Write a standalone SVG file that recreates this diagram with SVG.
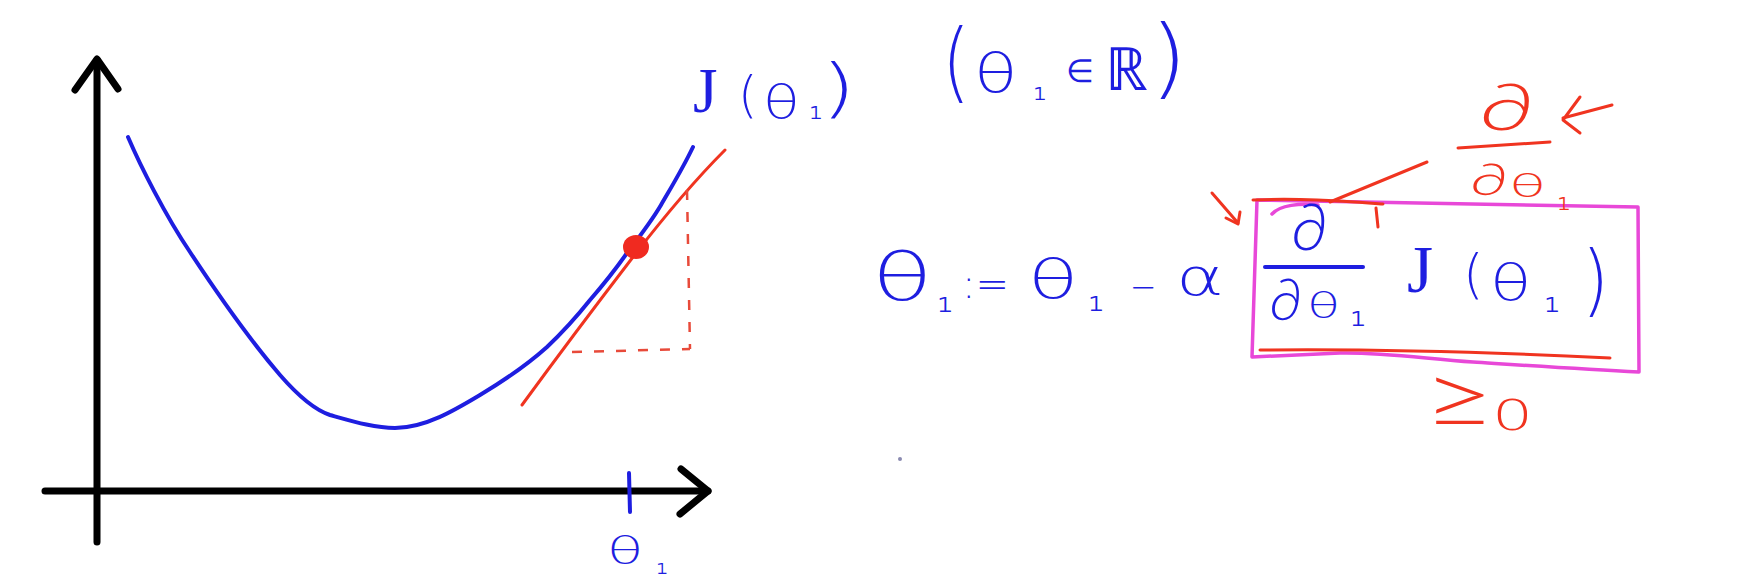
<svg xmlns="http://www.w3.org/2000/svg" width="1754" height="588" viewBox="0 0 1754 588">
  <style>
    .ax{fill:none;stroke:#000;stroke-width:7;stroke-linecap:round;stroke-linejoin:round}
    .bl{fill:none;stroke:#1e1ee0;stroke-width:4;stroke-linecap:round;stroke-linejoin:round}
    .rd{fill:none;stroke:#f03420;stroke-width:3;stroke-linecap:round;stroke-linejoin:round}
    .dash{fill:none;stroke:#e84a3a;stroke-width:2.5;stroke-dasharray:10 12}
    .mg{fill:none;stroke:#e848d8;stroke-width:3.5;stroke-linejoin:round;stroke-linecap:round}
    .tb{fill:#1e1ee0;font-family:"DejaVu Sans ExtraLight","DejaVu Sans",sans-serif;font-weight:200}
    .tr{fill:#f03420;font-family:"DejaVu Sans ExtraLight","DejaVu Sans",sans-serif;font-weight:200}
    .pd{font-family:"Lato","DejaVu Sans",sans-serif;font-weight:300}
    .jj{font-family:"Liberation Serif",serif;font-weight:400}
  </style>
  <rect width="1754" height="588" fill="#fff"/>

  <g id="axes">
    <path class="ax" d="M97 542 L97 60"/>
    <path class="ax" d="M75 90 L97 59 L118 89"/>
    <path class="ax" d="M45 491 L708 491"/>
    <path class="ax" d="M681 469 L708 491 L680 514"/>
    <path class="bl" d="M629 473 L630 512"/>
  </g>

  <g id="cost-curve">
    <path class="bl" d="M128 137 C140 165 165 215 190 252 C215 290 250 340 280 375 C300 398 315 410 330 415 C355 422 375 428 395 428 C425 428 455 410 480 395 C505 380 527 365 547 347 C565 330 578 315 590 300 C603 285 615 270 627 253 C640 236 651 222 661 205 C672 186 683 168 693 147"/>
  </g>

  <g id="tangent">
    <path class="rd" d="M522 405 C560 353 600 300 633 257 C660 222 690 185 725 150"/>
    <path class="dash" d="M687 190 L690 349"/>
    <path class="dash" d="M572 352 L690 349"/>
    <ellipse cx="636" cy="247" rx="13" ry="12" fill="#f02a20"/>
  </g>

  <g id="label-J">
    <text class="tb jj" font-size="63" x="693" y="112">J</text>
    <text class="tb" font-size="50" transform="translate(738 112)">(</text>
    <text class="tb" font-size="47" transform="translate(763 118) scale(1.28 1)">θ</text>
    <text class="tb" font-size="34" x="809" y="119">₁</text>
    <text class="tb" font-size="64" transform="translate(821 110) scale(1.4 1)">)</text>
  </g>

  <g id="label-theta-axis">
    <text class="tb" font-size="37" transform="translate(607 563) scale(1.6 1)">θ</text>
    <text class="tb" font-size="30" x="656" y="574">₁</text>
  </g>

  <g id="domain">
    <text class="tb" font-size="60" transform="translate(942 91) scale(1.2 1.45)">(</text>
    <text class="tb" font-size="53" transform="translate(974 92) scale(1.34 1)">θ</text>
    <text class="tb" font-size="34" x="1033" y="100">₁</text>
    <text class="tb" font-size="32" x="1066" y="82">∈</text>
    <text class="tb" font-size="60" x="1105" y="90">ℝ</text>
    <text class="tb" font-size="60" transform="translate(1150 87) scale(1.6 1.45)">)</text>
  </g>

  <g id="update-rule">
    <text class="tb" font-size="66" transform="translate(872 300) scale(1.5 1)">θ</text>
    <text class="tb" font-size="40" x="937" y="312">₁</text>
    <text class="tb" font-size="40" x="962" y="298">:=</text>
    <text class="tb" font-size="53" transform="translate(1028 298) scale(1.55 1)">θ</text>
    <text class="tb" font-size="40" x="1088" y="311">₁</text>
    <text class="tb" font-size="32" x="1130" y="298">−</text>
    <text class="tb" font-size="52" transform="translate(1176 295) scale(1.4 1)">α</text>
  </g>

  <g id="derivative-box">
    <path class="mg" d="M1257 200 L1638 207 L1639 372 C1580 369 1520 365 1473 362 C1420 358 1380 352 1340 353 L1252 357 Z"/>
    <path class="mg" d="M1272 214 C1280 205 1300 203 1318 205"/>
    <text class="tb pd" font-size="65" x="1291" y="250">∂</text>
    <path class="bl" d="M1265 267 L1363 267"/>
    <text class="tb pd" font-size="58" x="1269" y="320">∂</text>
    <text class="tb" font-size="35" transform="translate(1307 318) scale(1.55 1)">θ</text>
    <text class="tb" font-size="40" x="1350" y="326">₁</text>
    <text class="tb jj" font-size="67" x="1407" y="292">J</text>
    <text class="tb" font-size="53" transform="translate(1463 293)">(</text>
    <text class="tb" font-size="50" transform="translate(1490 300) scale(1.35 1)">θ</text>
    <text class="tb" font-size="40" x="1544" y="312">₁</text>
    <text class="tb" font-size="60" transform="translate(1582 307) scale(1.15 1.3)">)</text>
  </g>

  <g id="annotation-partial">
    <text class="tr pd" font-size="65" transform="translate(1479 130) scale(1.5 1)">∂</text>
    <path class="rd" d="M1458 148 L1550 142"/>
    <text class="tr pd" font-size="44" transform="translate(1470 195) scale(1.5 1)">∂</text>
    <text class="tr" font-size="32" transform="translate(1509 197) scale(1.9 1)">θ</text>
    <text class="tr" font-size="34" x="1557" y="210">₁</text>
  </g>

  <g id="annotation-geq">
    <text class="tr pd" font-size="90" transform="translate(1423 428) scale(1.4 1)">≥</text>
    <text class="tr" font-size="43" transform="translate(1492 430) scale(1.5 1)">0</text>
  </g>

  <g id="connectors">
    <path class="rd" d="M1563 118 L1612 105"/>
    <path class="rd" d="M1580 97 L1563 120 L1580 133"/>
    <path class="rd" d="M1427 162 L1330 202"/>
    <path class="rd" d="M1253 200 C1300 198 1340 201 1383 204"/>
    <path class="rd" d="M1376 208 L1378 227"/>
    <path class="rd" d="M1212 193 L1238 223"/>
    <path class="rd" d="M1226 218 L1238 224 L1240 212"/>
    <path class="rd" d="M1260 350 C1350 349 1450 350 1610 358"/>
  </g>

  <g id="speck">
    <circle cx="900" cy="459" r="2" fill="#8a8ab0"/>
  </g>
</svg>
